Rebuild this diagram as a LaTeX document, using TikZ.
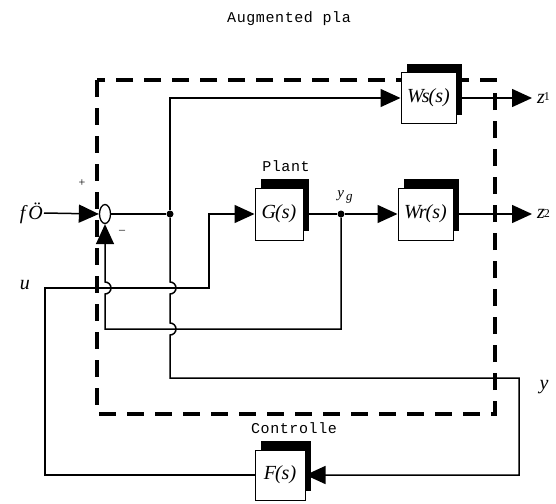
\documentclass[tikz,border=0pt]{standalone}
\usepackage{fontspec}
\setmainfont{Liberation Serif}
\newfontfamily\monofont[LetterSpace=4]{Liberation Mono}
\usetikzlibrary{arrows.meta,shapes.geometric}
\tikzset{
  blk/.style={draw, fill=white, line width=1pt, inner sep=0pt, minimum height=52pt,
    font=\fontsize{20}{20}\selectfont\itshape,
    preaction={fill=black, transform canvas={shift={(6pt,9pt)}}}},
  sig/.style={line width=1.5pt},
  tip/.style={-{Triangle[length=20pt,width=18pt]}},
  lbl/.style={font=\monofont\fontsize{15}{15}\selectfont},
  dot/.style={circle, fill=black, inner sep=0pt, minimum size=7pt},
  var/.style={font=\fontsize{20}{20}\selectfont\itshape, inner sep=1pt},
}
\begin{document}
\begin{tikzpicture}[x=1pt,y=-1pt]
\useasboundingbox (0,0) rectangle (556,503);
\node[lbl] (title) at (289,19) {Augmented pla};
\draw[line width=4.5pt, dash pattern=on 17pt off 11pt] (97,80) rectangle (495,414);

\node[ellipse, draw, fill=white, line width=1.3pt, minimum width=11pt, minimum height=19pt, inner sep=0pt] (sum) at (105,214) {};
\node[blk, minimum width=48pt] (G) at (279,214) {G\kern-1pt(s)};
\node[blk, minimum width=55pt] (Wr) at (425.5,214) {W\kern-2pt r\kern-1pt(s)};
\node[blk, minimum width=55pt, minimum height=51pt] (Ws) at (428.5,98) {W\kern-2pt s\kern-1pt(s)};
\node[blk, minimum width=50pt, minimum height=50pt] (F) at (280,475) {F\kern-1pt(s)};

\node[lbl] (plant) at (286,166) {Plant};
\node[lbl] (ctrl) at (294,428) {Controlle};

\node[dot] (ya) at (170,214) {};
\node[dot] (yg) at (341,214) {};
\coordinate (uc) at (45,288);
\coordinate (ub) at (209,288);
\coordinate (fb) at (105,329);
\coordinate (ybr) at (519,378);
\coordinate (z1e) at (532,98);
\coordinate (z2e) at (532,214);

\node[var, anchor=east] (rin) at (44,213) {f\kern3pt Ö};
\node[var, anchor=east] (ulbl) at (31,285) {u};
\node[var] (ylbl) at (544,387) {y};
\node[font=\fontsize{15}{15}\selectfont\itshape] (yglbl) at (345,197) {y\kern2pt\raisebox{-3pt}{\fontsize{13}{13}\selectfont g}};
\node[var, anchor=west] (z1lbl) at (536,98) {z\kern-1pt\raisebox{3pt}{\fontsize{12}{12}\selectfont\upshape 1}};
\node[var, anchor=west] (z2lbl) at (536,214) {z\kern-1pt\raisebox{1pt}{\fontsize{12}{12}\selectfont\upshape 2}};
\node[font=\fontsize{12}{12}\selectfont] (plus) at (82,183) {+};
\node[font=\fontsize{12}{12}\selectfont] (minus) at (122,232) {--};

\draw[sig,tip] (rin.east) -- (sum.west);
\draw[sig] (sum.east) -- (ya);
\draw[sig,tip] (ya) |- (Ws.west);
\draw[sig] (G.east) -- (yg);
\draw[sig,tip] (yg) -- (Wr.west);
\draw[sig,tip] (Ws.east) -- (z1e);
\draw[sig,tip] (Wr.east) -- (z2e);
\draw[sig,tip] (ya) -- (170,282) arc(-90:90:6) -- (170,323) arc(-90:90:6) -- (170,378) -- (ybr) |- (F.east);
\draw[sig,tip] (yg) |- (fb) -- (105,294) arc(90:-90:6) -- (sum.south);
\draw[sig,tip] (F.west) -| (uc) -- (ub) |- (G.west);
\end{tikzpicture}
\end{document}
